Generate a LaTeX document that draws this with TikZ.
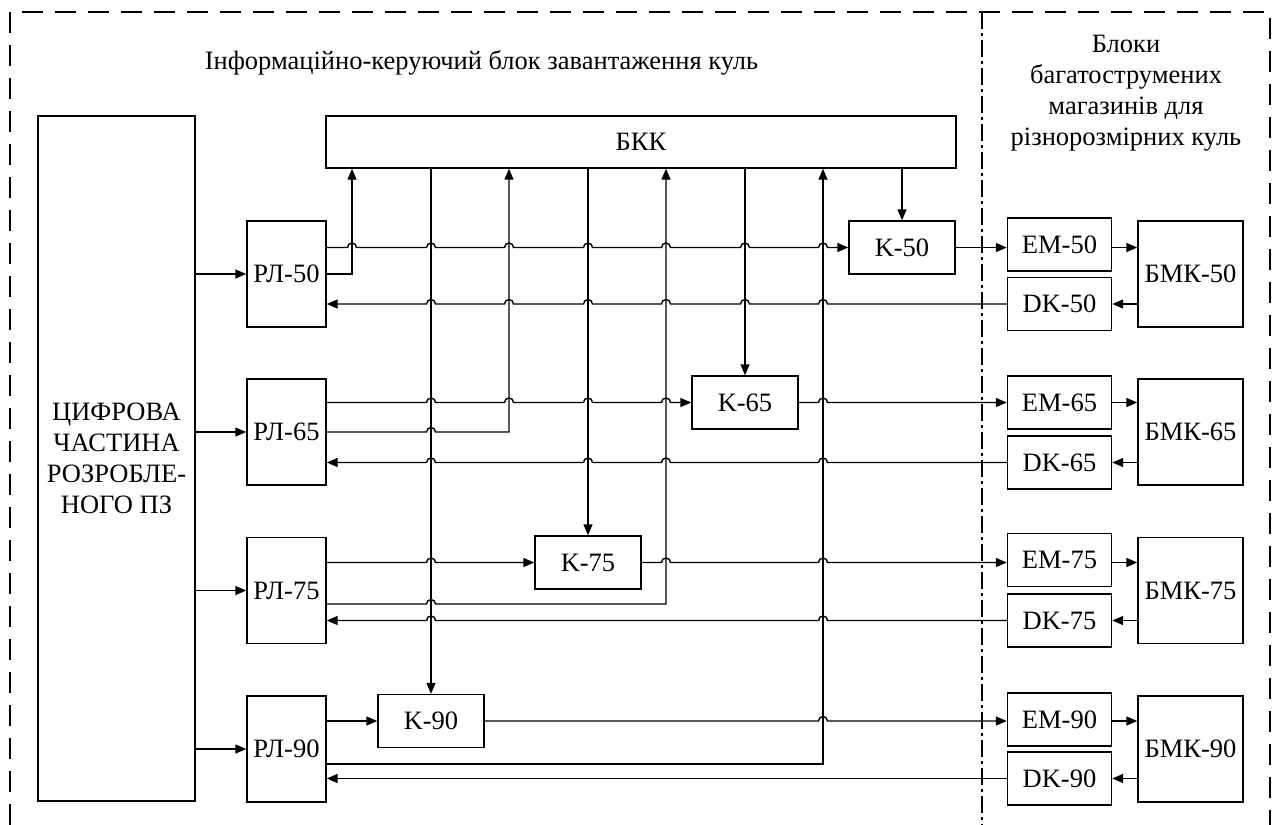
\documentclass[tikz,border=0pt]{standalone}
\usepackage{fontspec}
\setmainfont{Liberation Serif}
\usetikzlibrary{arrows.meta,calc}
\newcommand{\hr}[2]{-- ({#1-4.5},#2) arc (180:0:4.5pt)}
\newcommand{\hl}[2]{-- ({#1+4.5},#2) arc (0:180:4.5pt)}
\begin{document}
\begin{tikzpicture}[x=1pt,y=-1pt,
  line width=1.4pt,
  txt/.style={font=\fontsize{26.5}{31}\selectfont},
  box/.style={draw,line width=1.4pt,inner sep=0pt,align=center,font=\fontsize{26.5}{31}\selectfont},
  rl/.style={box,minimum width=79pt,minimum height=106pt},
  kb/.style={box,minimum width=106pt,minimum height=53pt},
  em/.style={box,minimum width=104pt,minimum height=53pt},
  bmk/.style={box,minimum width=105pt,minimum height=106pt},
  arr/.style={-{Triangle[length=11pt,width=9pt]}},
  frm/.style={line width=1.4pt,dash pattern=on 21pt off 12pt},
  dvd/.style={line width=1.4pt,dash pattern=on 17pt off 4pt on 3pt off 4pt}]
\useasboundingbox (0,0) rectangle (1278,825);
% frame
\draw[frm] (10,825) -- (10,12) -- (1270,12) -- (1270,825);
\draw[dvd] (982,12) -- (982,825);
% titles
\node[txt] (title) at (481.5,63) {Інформаційно-керуючий блок завантаження куль};
\node[txt,align=center] (title2) at (1126,93.5) {Блоки\\багатострумених\\магазинів для\\різнорозмірних куль};
% boxes
\node[box,minimum width=157pt,minimum height=685pt] (CIF) at (116.5,458.5) {ЦИФРОВА\\ЧАСТИНА\\РОЗРОБЛЕ-\\НОГО ПЗ};
\node[box,minimum width=630pt,minimum height=52pt] (BKK) at (641,142) {БКК};
\node[rl] (RL50) at (286.5,274) {РЛ-50};
\node[rl] (RL65) at (286.5,432) {РЛ-65};
\node[rl] (RL75) at (286.5,590.5) {РЛ-75};
\node[rl] (RL90) at (286.5,749) {РЛ-90};
\node[kb] (K50) at (902,247.5) {K-50};
\node[kb] (K65) at (745,402.5) {K-65};
\node[kb] (K75) at (588,562.5) {K-75};
\node[kb] (K90) at (431,721) {K-90};
\node[em] (EM50) at (1059.5,244.5) {EM-50};
\node[em] (EM65) at (1059.5,402.5) {EM-65};
\node[em] (EM75) at (1059.5,560) {EM-75};
\node[em] (EM90) at (1059.5,719.5) {EM-90};
\node[em] (DK50) at (1059.5,304) {DK-50};
\node[em] (DK65) at (1059.5,462.5) {DK-65};
\node[em] (DK75) at (1059.5,620.5) {DK-75};
\node[em] (DK90) at (1059.5,778.5) {DK-90};
\node[bmk] (BMK50) at (1190.5,274) {БМК-50};
\node[bmk] (BMK65) at (1190.5,432) {БМК-65};
\node[bmk] (BMK75) at (1190.5,590.5) {БМК-75};
\node[bmk] (BMK90) at (1190.5,749) {БМК-90};
% vertical line positions
\coordinate (v1) at (352,0);
\coordinate (v3) at (509,0);
\coordinate (v5) at (666,0);
\coordinate (v7) at (823,0);
% inputs from CIF
\foreach \r in {50,65,75,90} \draw[arr] (CIF.east |- RL\r.west) -- (RL\r.west);
% BKK -> K
\draw[arr] (BKK.south -| K90.north) -- (K90.north);
\draw[arr] (BKK.south -| K75.north) -- (K75.north);
\draw[arr] (BKK.south -| K65.north) -- (K65.north);
\draw[arr] (BKK.south -| K50.north) -- (K50.north);
% RL -> BKK
\draw[arr] (RL50.east) -| (v1 |- BKK.south);
\draw[arr] (RL65.east) \hr{431}{432} -- (v3 |- RL65.east) -- (v3 |- BKK.south);
\draw[arr] ([yshift=-13.5pt]RL75.east) coordinate (a75) \hr{431}{604} -- (v5 |- a75) -- (v5 |- BKK.south);
\draw[arr] ([yshift=-15pt]RL90.east) -| (v7 |- BKK.south);
% RL -> K
\draw[arr] (RL50.east |- K50.west) \hr{352}{247.5} \hr{431}{247.5} \hr{509}{247.5} \hr{588}{247.5} \hr{666}{247.5} \hr{745}{247.5} \hr{823}{247.5} -- (K50.west);
\draw[arr] (RL65.east |- K65.west) \hr{431}{402.5} \hr{509}{402.5} \hr{588}{402.5} \hr{666}{402.5} -- (K65.west);
\draw[arr] (RL75.east |- K75.west) \hr{431}{562.5} -- (K75.west);
\draw[arr] (RL90.east |- K90.west) -- (K90.west);
% returns DK -> RL
\draw[arr] (DK50.west) \hl{823}{304} \hl{745}{304} \hl{666}{304} \hl{588}{304} \hl{509}{304} \hl{431}{304} -- (RL50.east |- DK50.west);
\draw[arr] (DK65.west) \hl{823}{462.5} \hl{666}{462.5} \hl{588}{462.5} \hl{431}{462.5} -- (RL65.east |- DK65.west);
\draw[arr] (DK75.west) \hl{823}{620.5} \hl{431}{620.5} -- (RL75.east |- DK75.west);
\draw[arr] (DK90.west) -- (RL90.east |- DK90.west);
% K -> EM
\draw[arr] (K50.east) -- (K50.east -| EM50.west);
\draw[arr] (K65.east) \hr{823}{402.5} -- (K65.east -| EM65.west);
\draw[arr] (K75.east) \hr{666}{562.5} \hr{823}{562.5} -- (K75.east -| EM75.west);
\draw[arr] (K90.east) \hr{823}{721} -- (K90.east -| EM90.west);
% EM -> BMK, BMK -> DK
\draw[arr] (EM50.east |- K50.east) -- (BMK50.west |- K50.east);
\draw[arr] (EM65.east |- K65.east) -- (BMK65.west |- K65.east);
\draw[arr] (EM75.east |- K75.east) -- (BMK75.west |- K75.east);
\draw[arr] (EM90.east |- K90.east) -- (BMK90.west |- K90.east);
\foreach \r in {50,65,75,90} \draw[arr] (BMK\r.west |- DK\r.east) -- (DK\r.east);
\end{tikzpicture}
\end{document}
